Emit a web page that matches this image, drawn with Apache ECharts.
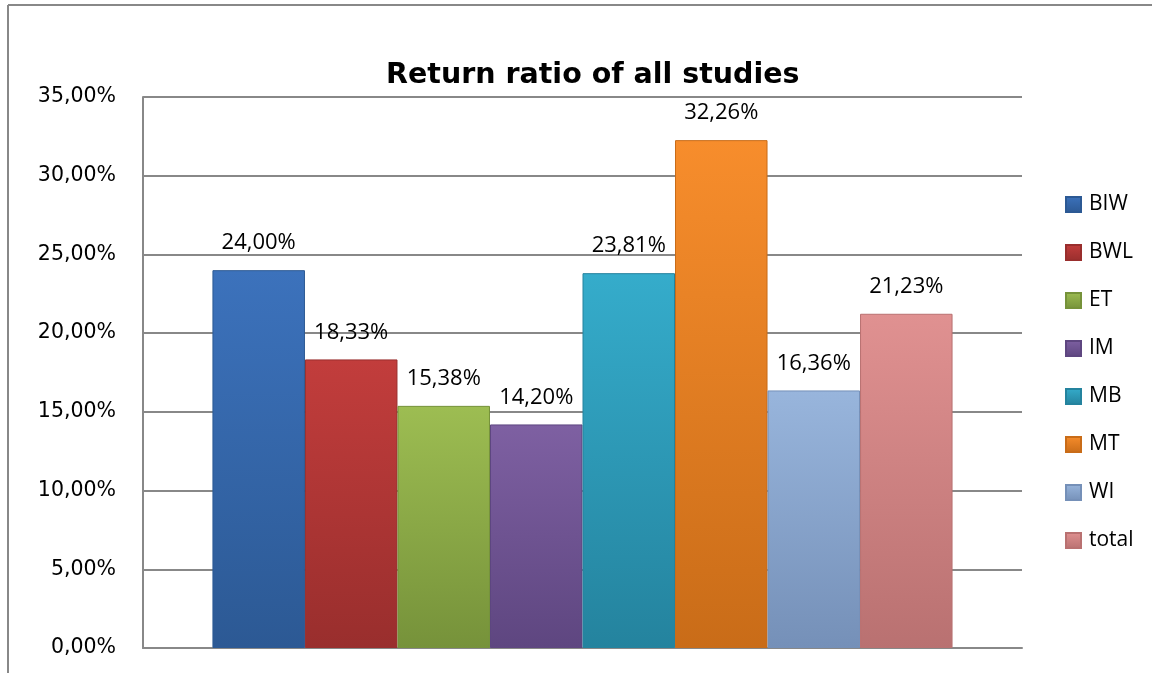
<!DOCTYPE html>
<html>
<head>
<meta charset="utf-8">
<title>Return ratio of all studies</title>
<script src="https://cdn.jsdelivr.net/npm/echarts@6/dist/echarts.min.js"></script>
<style>
  html, body { margin: 0; padding: 0; background: #fff; }
  #chart { width: 1152px; height: 673px; }
</style>
</head>
<body>
<div id="chart"></div>
<script>
const seriesNames = ['BIW', 'BWL', 'ET', 'IM', 'MB', 'MT', 'WI', 'total']
const seriesValues = [24.0, 18.33, 15.38, 14.2, 23.81, 32.26, 16.36, 21.23]
const topColors = ['#3C72BC', '#C23D3C', '#9DBD52', '#7E60A2', '#35ACCB', '#F78D2C', '#98B5DC', '#E09191']
const bottomColors = ['#2C5994', '#992E2D', '#76923A', '#5E4680', '#24839E', '#C96C18', '#7590B8', '#B97171']
const yTicks = { min: 0, max: 35, interval: 5 }

const fmt = (v) => v.toFixed(2).replace('.', ',') + '%'

const chart = echarts.init(document.getElementById('chart'))

const series = seriesNames.map((name, i) => ({
  name: name,
  type: 'bar',
  data: [seriesValues[i]],
  barGap: '0%',
  barCategoryGap: '15.8%',
  itemStyle: {
    color: new echarts.graphic.LinearGradient(0, 0, 0, 1, [
      { offset: 0, color: topColors[i] },
      { offset: 1, color: bottomColors[i] },
    ]),
    borderColor: bottomColors[i],
    borderWidth: 1,
  },
  label: {
    show: true,
    position: 'top',
    distance: 16,
    formatter: (p) => fmt(p.value),
    fontFamily: 'Open Sans',
    fontSize: 22,
    color: '#000',
  },
}))

const option = {
  animation: false,
  title: {
    text: 'Return ratio of all studies',
    left: 381,
    top: 56,
    textStyle: {
      fontFamily: 'DejaVu Sans',
      fontWeight: 'bold',
      fontSize: 28.5,
      color: '#000',
    },
  },
  legend: {
    orient: 'vertical',
    left: 1060,
    top: 189,
    itemWidth: 15,
    itemHeight: 15,
    itemGap: 27,
    icon: 'rect',
    data: seriesNames,
    textStyle: {
      fontFamily: 'Open Sans',
      fontSize: 21,
      color: '#000',
      padding: [0, 0, 0, 3],
    },
  },
  grid: {
    left: 143,
    right: 130,
    top: 97,
    bottom: 25,
    containLabel: false,
  },
  xAxis: {
    type: 'category',
    data: [''],
    axisLine: { show: true, lineStyle: { color: '#888', width: 2 } },
    axisTick: { show: false },
    axisLabel: { show: false },
  },
  yAxis: {
    type: 'value',
    min: yTicks.min,
    max: yTicks.max,
    interval: yTicks.interval,
    axisLine: { show: true, lineStyle: { color: '#888', width: 2 } },
    axisTick: { show: false },
    splitLine: { lineStyle: { color: '#888', width: 2 } },
    axisLabel: {
      formatter: (v) => fmt(v),
      margin: 27,
      fontFamily: 'DejaVu Sans',
      fontSize: 20.5,
      color: '#000',
    },
  },
  graphic: [
    { type: 'line', shape: { x1: 8, y1: 5, x2: 8, y2: 673 }, style: { stroke: '#888', lineWidth: 2 } },
    { type: 'line', shape: { x1: 8, y1: 5, x2: 1152, y2: 5 }, style: { stroke: '#888', lineWidth: 2 } },
  ],
  series: series,
}

chart.setOption(option)
</script>
</body>
</html>
